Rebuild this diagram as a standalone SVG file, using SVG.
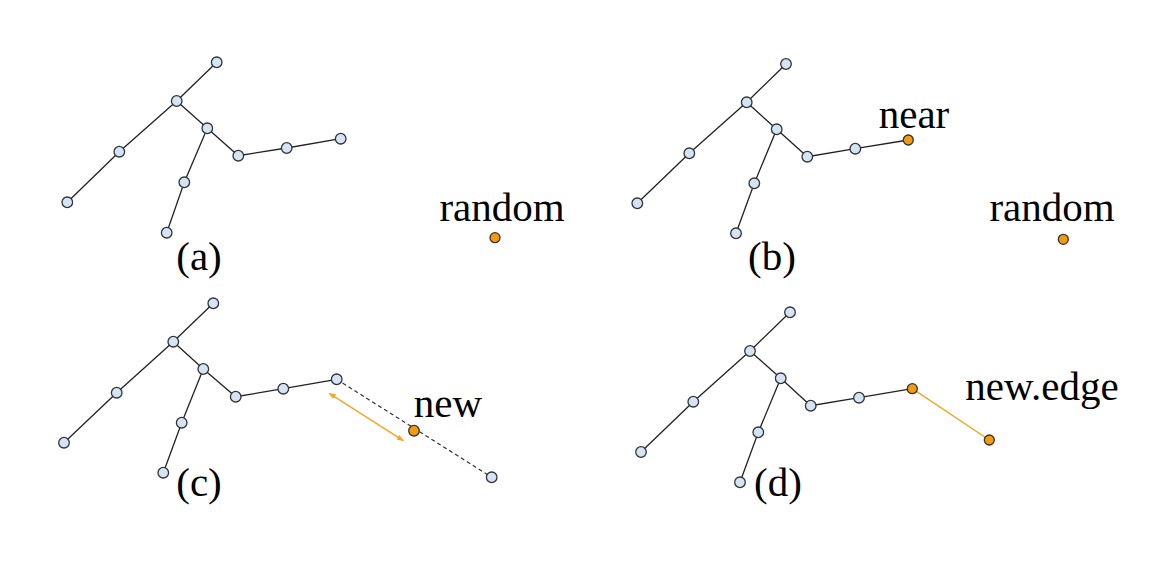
<svg xmlns="http://www.w3.org/2000/svg" width="1173" height="583" viewBox="0 0 1173 583">
<defs>
<style>
.n{fill:#d4e4f4;stroke:#333;stroke-width:1.3}
.o{fill:#f29b0f;stroke:#333;stroke-width:1.3}
.e{stroke:#222;stroke-width:1.3;fill:none}
.d{stroke:#333;stroke-width:1.2;stroke-dasharray:4 3;fill:none}
.oe{stroke:#f5a623;stroke-width:1.5;fill:none}
.t{font-family:"Liberation Serif","Times New Roman",serif;font-size:41px;fill:#000;text-anchor:middle}
</style>
<marker id="ah" viewBox="0 0 10 10" refX="9" refY="5" markerWidth="7" markerHeight="7" orient="auto-start-reverse" markerUnits="userSpaceOnUse">
<path d="M0,1 L10,5 L0,9 Z" fill="#f5a623"/>
</marker>
</defs>
<rect width="1173" height="583" fill="#fff"/>
<g id="connectors">
<polyline class="e" points="216.7,62.3 176.7,101 119.3,151.7 67.3,202.3"/>
<polyline class="e" points="176.7,101 207.3,128.3 238.3,155.7 286.7,148 340.7,138.7"/>
<polyline class="e" points="207.3,128.3 184.3,182.3 166.7,232.7"/>
<polyline class="e" points="786,64 746.7,102.3 689.3,153.3 637.3,203.3"/>
<polyline class="e" points="746.7,102.3 776.7,129.3 807.3,156.7 855.3,148.7 908.3,140"/>
<polyline class="e" points="776.7,129.3 754.3,183.3 736,233.3"/>
<polyline class="e" points="213.3,303.3 173.3,341.7 116.7,392.7 64,442.7"/>
<polyline class="e" points="173.3,341.7 203.3,369 235.7,396.7 283.3,388.7 336.7,379.3"/>
<polyline class="e" points="203.3,369 181.7,422.7 163.3,472.7"/>
<line class="d" x1="336.7" y1="379.3" x2="491.7" y2="477.3"/>
<line class="oe" x1="329.3" y1="393.3" x2="403.3" y2="440.7" marker-start="url(#ah)" marker-end="url(#ah)"/>
<polyline class="e" points="790,312.3 750,351 693.3,401.7 641,452"/>
<polyline class="e" points="750,351 780.7,378.3 810.7,405.7 859,397.7 912.3,388.7"/>
<polyline class="e" points="780.7,378.3 758.3,432.3 740,482.3"/>
<line class="oe" x1="912.3" y1="388.7" x2="989.3" y2="440"/>
</g>
<g id="panel-a">
<circle class="n" cx="216.7" cy="62.3" r="5.3"/>
<circle class="n" cx="176.7" cy="101" r="5.3"/>
<circle class="n" cx="119.3" cy="151.7" r="5.3"/>
<circle class="n" cx="67.3" cy="202.3" r="5.3"/>
<circle class="n" cx="207.3" cy="128.3" r="5.3"/>
<circle class="n" cx="184.3" cy="182.3" r="5.3"/>
<circle class="n" cx="166.7" cy="232.7" r="5.3"/>
<circle class="n" cx="238.3" cy="155.7" r="5.3"/>
<circle class="n" cx="286.7" cy="148" r="5.3"/>
<circle class="n" cx="340.7" cy="138.7" r="5.3"/>
<circle class="o" cx="495" cy="237.7" r="5"/>
<text class="t" x="502" y="221">random</text>
<text class="t" x="199" y="270">(a)</text>
</g>
<g id="panel-b">
<circle class="n" cx="786" cy="64" r="5.3"/>
<circle class="n" cx="746.7" cy="102.3" r="5.3"/>
<circle class="n" cx="689.3" cy="153.3" r="5.3"/>
<circle class="n" cx="637.3" cy="203.3" r="5.3"/>
<circle class="n" cx="776.7" cy="129.3" r="5.3"/>
<circle class="n" cx="754.3" cy="183.3" r="5.3"/>
<circle class="n" cx="736" cy="233.3" r="5.3"/>
<circle class="n" cx="807.3" cy="156.7" r="5.3"/>
<circle class="n" cx="855.3" cy="148.7" r="5.3"/>
<circle class="o" cx="908.3" cy="140" r="5"/>
<text class="t" x="914" y="128">near</text>
<circle class="o" cx="1063.3" cy="239.3" r="5"/>
<text class="t" x="1052" y="221">random</text>
<text class="t" x="772" y="270">(b)</text>
</g>
<g id="panel-c">
<circle class="n" cx="213.3" cy="303.3" r="5.3"/>
<circle class="n" cx="173.3" cy="341.7" r="5.3"/>
<circle class="n" cx="116.7" cy="392.7" r="5.3"/>
<circle class="n" cx="64" cy="442.7" r="5.3"/>
<circle class="n" cx="203.3" cy="369" r="5.3"/>
<circle class="n" cx="181.7" cy="422.7" r="5.3"/>
<circle class="n" cx="163.3" cy="472.7" r="5.3"/>
<circle class="n" cx="235.7" cy="396.7" r="5.3"/>
<circle class="n" cx="283.3" cy="388.7" r="5.3"/>
<circle class="n" cx="336.7" cy="379.3" r="5.3"/>
<circle class="o" cx="414" cy="430.7" r="5.3"/>
<circle class="n" cx="491.7" cy="477.3" r="5.3"/>
<text class="t" x="448" y="417">new</text>
<text class="t" x="199" y="496">(c)</text>
</g>
<g id="panel-d">
<circle class="n" cx="790" cy="312.3" r="5.3"/>
<circle class="n" cx="750" cy="351" r="5.3"/>
<circle class="n" cx="693.3" cy="401.7" r="5.3"/>
<circle class="n" cx="641" cy="452" r="5.3"/>
<circle class="n" cx="780.7" cy="378.3" r="5.3"/>
<circle class="n" cx="758.3" cy="432.3" r="5.3"/>
<circle class="n" cx="740" cy="482.3" r="5.3"/>
<circle class="n" cx="810.7" cy="405.7" r="5.3"/>
<circle class="n" cx="859" cy="397.7" r="5.3"/>
<circle class="o" cx="912.3" cy="388.7" r="5"/>
<circle class="o" cx="989.3" cy="440" r="5"/>
<text class="t" x="1042" y="400">new.edge</text>
<text class="t" x="778" y="496">(d)</text>
</g>
</svg>
